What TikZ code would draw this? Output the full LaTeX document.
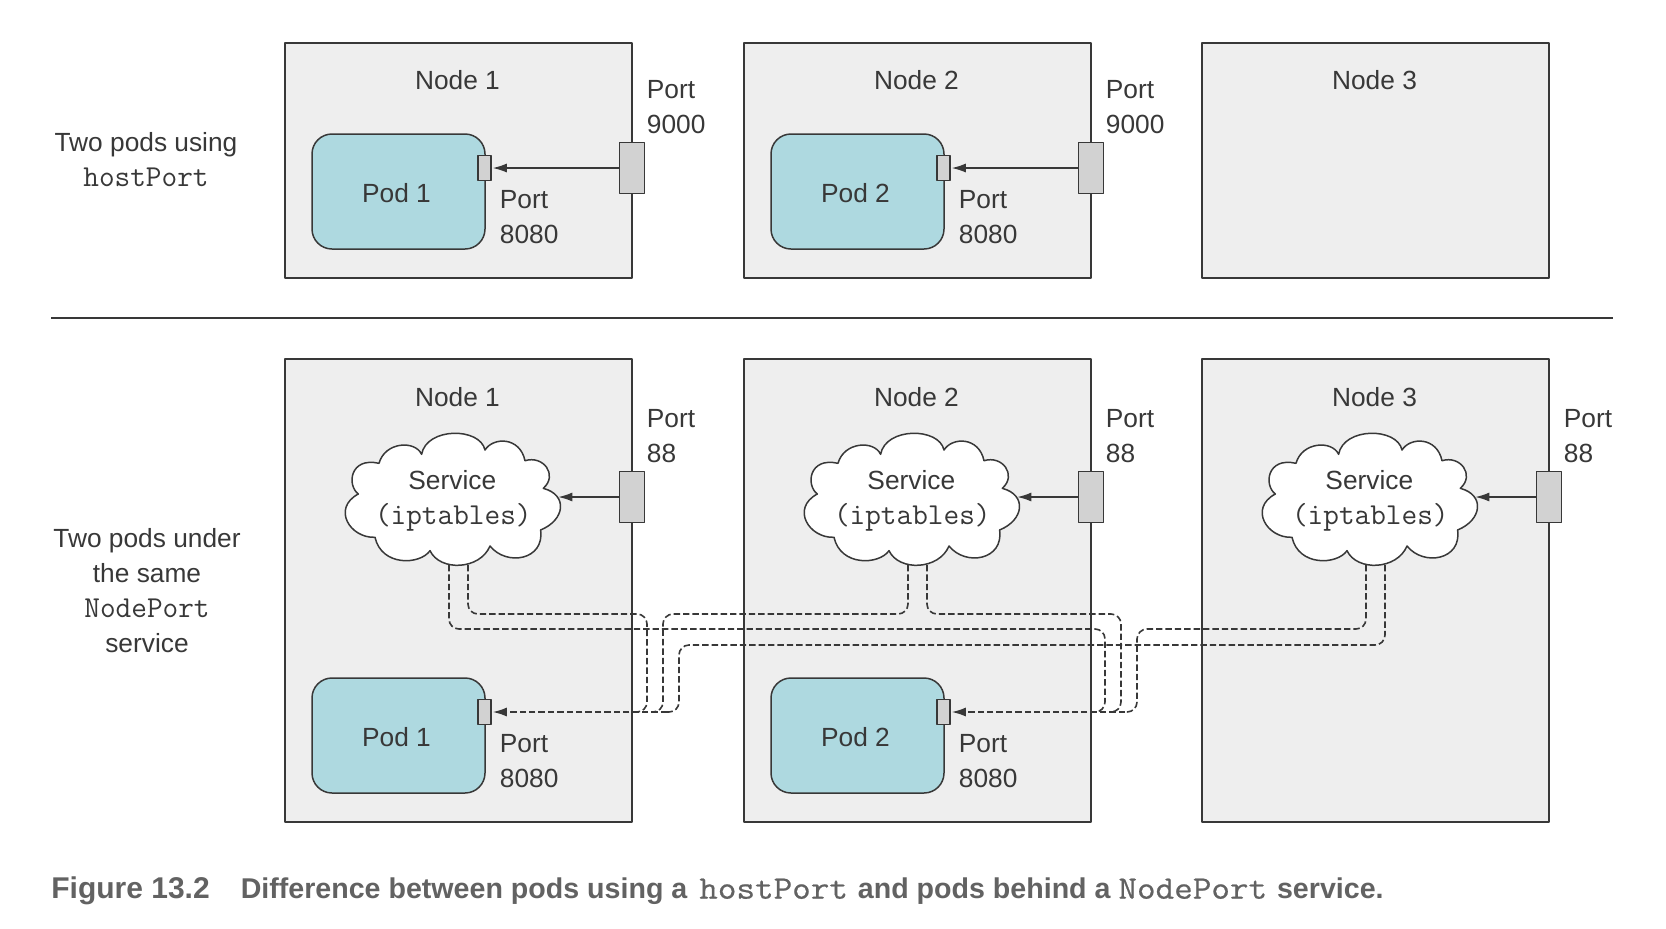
\documentclass[tikz,border=0pt]{standalone}
\usepackage{fontspec}
\setmainfont{Liberation Sans}
\usetikzlibrary{arrows.meta}
\newcommand{\codefont}{\fontspec{Latin Modern Mono}\fontsize{15.2}{17.5}\selectfont}
\newcommand{\capcode}{\mdseries\fontspec[FakeStretch=1.1,FakeBold=0.6]{Latin Modern Mono}\fontsize{16.4}{17}\selectfont}
\definecolor{boxgray}{HTML}{EEEEEE}
\definecolor{podblue}{HTML}{AED9E0}
\definecolor{portgray}{HTML}{D2D2D2}
\definecolor{inkgray}{HTML}{383838}
\definecolor{capgray}{HTML}{626262}
\tikzset{
  labeltext/.style={font=\fontsize{13.15}{17.5}\selectfont,text=inkgray,inner sep=0pt,align=center},
  porttext/.style={labeltext,align=left,anchor=west},
  nodebox/.style={draw=inkgray,fill=boxgray,line width=0.75pt,minimum width=173.5pt,inner sep=0pt},
  podbox/.style={draw=inkgray,fill=podblue,line width=0.75pt,rounded corners=10pt,minimum width=86.5pt,minimum height=57.5pt,inner sep=0pt},
  hostport/.style={draw=inkgray,fill=portgray,line width=0.75pt,minimum width=12.5pt,minimum height=25.5pt,inner sep=0pt},
  podport/.style={draw=inkgray,fill=portgray,line width=0.75pt,minimum width=6.5pt,minimum height=12.5pt,inner sep=0pt},
  solidline/.style={draw=inkgray,line width=0.7pt,-{Latex[length=7pt,width=4.5pt]},shorten >=0.5pt},
  dashline/.style={draw=inkgray,line width=0.8pt,dash pattern=on 3.2pt off 1.5pt},
  pics/svccloud/.style={code={
    \draw[draw=inkgray,fill=white,line width=0.75pt] (-31.7,-45.7)
      .. controls (-26.7,-73) and (26.7,-73) .. (31.7,-50)
      .. controls (40,-63.3) and (66.7,-63.3) .. (71.7,-39.3)
      .. controls (90,-45) and (105,-25) .. (90,-11.7)
      .. controls (115,-5) and (111.7,20) .. (87.3,30)
      .. controls (91.7,60) and (53.3,66.7) .. (36.7,46)
      .. controls (26.7,70) and (-13.3,71.7) .. (-23.3,50.7)
      .. controls (-33.3,65) and (-71.7,66.7) .. (-78.3,37.3)
      .. controls (-103.3,38.3) and (-121.7,8.3) .. (-95,-6)
      .. controls (-106.7,-15) and (-103.3,-43.3) .. (-74.3,-36.7)
      .. controls (-68.3,-58.3) and (-38.3,-60) .. cycle;
    \node[labeltext] (-name) at (-1,-20) {Service};
    \node[labeltext] (-kind) at (0,17) {\codefont(iptables)};
    \coordinate (-east) at (104,-3);
    \coordinate (-tapl) at (-4.3,65);
    \coordinate (-tapr) at (14.7,65);
  }}
}

\begin{document}
\begin{tikzpicture}[line cap=butt,line join=round,x=0.5pt,y=-0.5pt]
    \useasboundingbox (0,0) rectangle (1666,928);

    % Upper row
    \foreach \nn/\nx in {1/0,2/459,3/917} {
        \node[nodebox,minimum height=117.5pt] (up\nn) at (458.5+\nx,160.5) {};
        \node[labeltext] (uptitle\nn) at (457.5+\nx,80) {Node \nn};
    }
    \foreach \nn/\nx in {1/0,2/459} {
        \node[podbox] (uppod\nn) at (398.5+\nx,191.5) {};
        \node[labeltext] (uppodname\nn) at (396.5+\nx,193) {Pod \nn};
        \node[podport] (uppodport\nn) at (484.5+\nx,168) {};
        \node[hostport] (uphost\nn) at (632+\nx,168) {};
        \node[porttext] (uphosttext\nn) at (646.5+\nx,107.5) {Port\\9000};
        \node[porttext] (uppodtext\nn) at (499.5+\nx,217.5) {Port\\8080};
        \draw[solidline] (uphost\nn) -- (uppodport\nn);
    }

    % Divider
    \coordinate (divl) at (51,318);
    \coordinate (divr) at (1613,318);
    \draw[draw=inkgray,line width=0.75pt] (divl) -- (divr);

    % Lower row
    \foreach \nn/\nx in {1/0,2/459,3/917} {
        \node[nodebox,minimum height=231.5pt] (low\nn) at (458.5+\nx,590.5) {};
        \node[labeltext] (lowtitle\nn) at (457.5+\nx,397) {Node \nn};
        \pic (svc\nn) at (453.3+\nx,500) {svccloud};
        \node[hostport] (lowhost\nn) at (632+\nx,497) {};
        \node[porttext] (lowhosttext\nn) at (646.5+\nx,436) {Port\\88};
        \draw[solidline] (lowhost\nn) -- (svc\nn-east);
    }
    \foreach \nn/\nx in {1/0,2/459} {
        \node[podbox] (lowpod\nn) at (398.5+\nx,735.5) {};
        \node[labeltext] (lowpodname\nn) at (396.5+\nx,737) {Pod \nn};
        \node[podport] (lowpodport\nn) at (484.5+\nx,712) {};
        \node[porttext] (lowpodtext\nn) at (499.5+\nx,761.5) {Port\\8080};
    }

    % Dashed routes, each one falls into the run towards its pod
    \coordinate (lvla) at (0,614);
    \coordinate (lvlb) at (0,629);
    \coordinate (lvlc) at (0,645);
    \foreach \source/\bend/\lev in {svc1-tapr/647/lvla, svc2-tapl/663/lvla, svc3-tapr/679/lvlc, svc1-tapl/1105/lvlb, svc2-tapr/1121/lvla, svc3-tapl/1137/lvlb} {
        \coordinate (bendpt) at (\bend,712);
        \draw[dashline,rounded corners=5pt] (\source) -- (\source |- \lev) -- (bendpt |- \lev) -- (bendpt) -- ++(-12,0);
    }
    \coordinate (runa) at (667,712);
    \coordinate (runb) at (1125,712);
    \draw[dashline,-{Latex[length=7pt,width=4.5pt]},shorten >=0.5pt] (runa) -- (lowpodport1);
    \draw[dashline,-{Latex[length=7pt,width=4.5pt]},shorten >=0.5pt] (runb) -- (lowpodport2);

    % Row captions
    \node[labeltext] (uprowtext) at (146,159.5) {Two pods using\\{\codefont hostPort}};
    \node[labeltext] (lowrowtext) at (147,591) {Two pods under\\the same\\{\codefont NodePort}\\service};

    % Figure caption
    \node[anchor=west,inner sep=0pt,text=capgray,font=\fontsize{14.3}{17}\selectfont\bfseries] (figcaption) at (51,891)
        {{\fontsize{15}{17}\selectfont Figure 13.2}\hspace{15.5pt}Difference between pods using a\hspace{2pt} {\capcode hostPort}\hspace{1pt} and pods behind a {\capcode NodePort}\hspace{1pt} service.};
\end{tikzpicture}
\end{document}
